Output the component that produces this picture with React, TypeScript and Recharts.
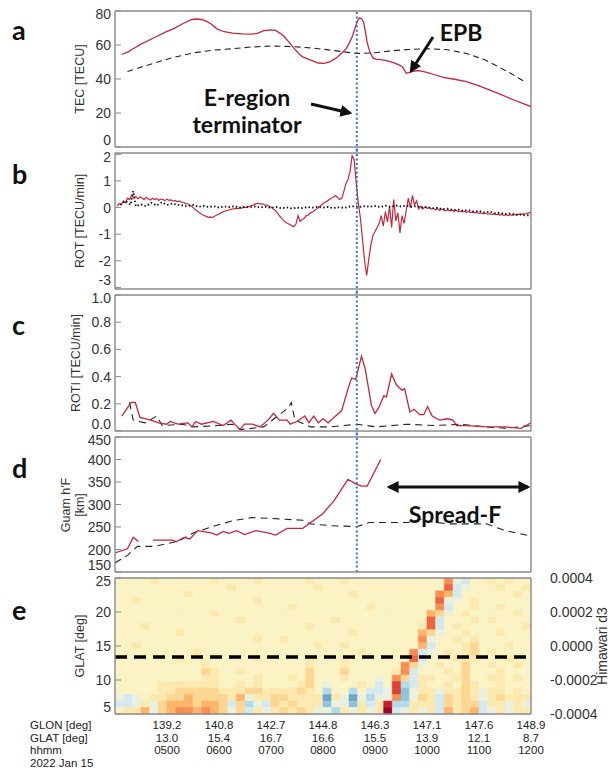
import React from "react";
import {
  ComposedChart,
  Line,
  XAxis,
  YAxis,
  ReferenceLine,
  ReferenceArea,
} from "recharts";

// ---------- time axis (UT hours) ----------
const X_DOMAIN: [number, number] = [4, 12];
const HOUR_TICKS = [4, 5, 6, 7, 8, 9, 10, 11, 12];
const LABEL_HOURS = [5, 6, 7, 8, 9, 10, 11, 12];
const GLON = ["139.2", "140.8", "142.7", "144.8", "146.3", "147.1", "147.6", "148.9"];
const GLAT = ["13.0", "15.4", "16.7", "16.6", "15.5", "13.9", "12.1", "8.7"];
const HHMM = ["0500", "0600", "0700", "0800", "0900", "1000", "1100", "1200"];
const TERMINATOR_H = 8.65;
const GUAM_LAT = 13.4;

// ---------- panel a: TEC ----------
const tecRed = [
  [4.13, 54.4], [4.25, 56], [4.35, 57.8], [4.5, 60.5], [4.76, 64.4], [5.0, 68], [5.14, 69.8],
  [5.3, 72.5], [5.48, 75], [5.57, 75.3], [5.66, 75], [5.75, 74], [5.85, 72.4], [5.96, 69.5],
  [6.1, 67.8], [6.26, 67], [6.45, 66.5], [6.64, 66.4], [6.75, 67], [6.86, 68.4], [7.0, 68.9],
  [7.09, 68.6], [7.17, 67], [7.24, 65.4], [7.35, 61.5], [7.46, 57.4], [7.53, 55], [7.61, 53],
  [7.75, 51.3], [7.91, 49.4], [8.02, 49.2], [8.14, 50.2], [8.26, 52.5], [8.37, 55.4], [8.45, 58],
  [8.51, 61.4], [8.57, 65.5], [8.63, 71.4], [8.67, 74.5], [8.7, 76], [8.74, 75.5], [8.78, 73.4],
  [8.82, 67], [8.85, 61.4], [8.9, 56], [8.96, 52.4], [9.03, 51.6], [9.11, 51.4], [9.2, 51],
  [9.34, 49.8], [9.45, 48.5], [9.52, 47.4], [9.56, 45.5], [9.6, 43.4], [9.65, 43.8], [9.71, 44.4],
  [9.82, 45], [9.92, 44.5], [10.01, 43.8], [10.15, 42.5], [10.31, 41], [10.5, 40], [10.76, 38.4],
  [11.0, 36], [11.21, 33.4], [11.45, 30.5], [11.66, 27.8], [11.85, 25.5], [12.0, 23.8],
];
const tecBlack = [
  [4.24, 44.4], [4.5, 47], [4.76, 49.4], [5.1, 52.5], [5.51, 55.4], [5.9, 57], [6.26, 57.8],
  [6.6, 58.8], [7.01, 59.4], [7.46, 59], [7.8, 58.2], [8.14, 57], [8.4, 56], [8.66, 55],
  [9.0, 55.4], [9.26, 56.4], [9.6, 57.3], [10.01, 57.8], [10.4, 57.2], [10.76, 55], [11.1, 51.5],
  [11.36, 47.4], [11.6, 43.5], [11.88, 38.4],
];

// ---------- panel b: ROT (red sampled every 0.04 h from 04.04 UT) ----------
const ROT_T0 = 4.04;
const ROT_DT = 0.04;
const rotRedValues = [
  0.05, 0.15, 0.1, 0.25, 0.18, 0.35, 0.3, 0.45, 0.38, 0.42, 0.33, 0.4, 0.36, 0.3, 0.38, 0.33,
  0.28, 0.35, 0.3, 0.34, 0.27, 0.32, 0.3, 0.26, 0.31, 0.27, 0.29, 0.24, 0.27, 0.22, 0.25, 0.2,
  0.2, 0.15, 0.14, 0.1, 0.04, -0.04, -0.1, -0.16, -0.21, -0.27, -0.3, -0.34, -0.37, -0.35, -0.38,
  -0.32, -0.28, -0.24, -0.2, -0.16, -0.13, -0.1, -0.09, -0.06, -0.05, -0.03, -0.04, -0.01, -0.02,
  0.01, 0.0, 0.03, 0.06, 0.08, 0.12, 0.15, 0.16, 0.13, 0.14, 0.1, 0.09, 0.05, 0.02, -0.05, -0.1,
  -0.2, -0.3, -0.4, -0.48, -0.55, -0.6, -0.63, -0.68, -0.72, -0.62, -0.3, -0.52, -0.45, -0.4,
  -0.3, -0.28, -0.2, -0.17, -0.1, -0.05, 0.02, 0.08, 0.15, 0.2, 0.24, 0.3, 0.35, 0.4, 0.45, 0.38,
  0.3, 0.35, 0.6, 0.9, 1.05, 1.35, 1.95, 1.8, 0.9, 0.15, -0.4, -1.2, -2.0, -2.55, -1.95, -1.4,
  -1.05, -0.9, -0.75, -0.6, -0.3, -0.7, -0.15, -0.55, 0.05, -0.75, 0.3, -0.5, -0.2, -0.95, -0.3,
  -0.6, -0.1, 0.35, 0.0, 0.45, 0.1, 0.25, -0.05, 0.05, -0.05, 0.02, -0.03, 0.0, -0.06, -0.02,
  -0.08, -0.04, -0.1, -0.06, -0.09, -0.12, -0.08, -0.12, -0.1, -0.14, -0.11, -0.15, -0.13, -0.16,
  -0.14, -0.18, -0.15, -0.19, -0.17, -0.2, -0.18, -0.22, -0.2, -0.24, -0.21, -0.25, -0.23, -0.26,
  -0.24, -0.27, -0.25, -0.28, -0.26, -0.29, -0.27, -0.3, -0.27, -0.29, -0.26, -0.28, -0.25, -0.27,
  -0.24, -0.25, -0.22, -0.2, -0.18,
];
const rotBlack = [
  [4.1, 0.1], [4.2, 0.25], [4.3, 0.1], [4.35, 0.62], [4.4, 0.05], [4.5, 0.12], [4.6, 0.05],
  [4.7, 0.18], [4.8, 0.08], [4.9, 0.2], [5.0, 0.1], [5.1, 0.15], [5.2, 0.1], [5.3, 0.08],
  [5.4, 0.05], [5.5, 0.1], [5.6, 0.03], [5.7, 0.06], [5.8, 0.02], [5.9, 0.05], [6.0, 0.0],
  [6.1, 0.04], [6.2, 0.02], [6.3, 0.05], [6.4, 0.0], [6.5, 0.03], [6.6, 0.01], [6.7, 0.04],
  [6.8, 0.0], [6.9, 0.03], [7.0, -0.01], [7.1, 0.02], [7.2, -0.03], [7.3, 0.01], [7.4, -0.04],
  [7.5, 0.0], [7.6, -0.02], [7.7, 0.02], [7.8, 0.0], [7.9, 0.03], [8.0, 0.0], [8.1, 0.02],
  [8.2, -0.02], [8.3, 0.01], [8.4, -0.01], [8.5, 0.03], [8.6, 0.05], [8.7, 0.02], [8.8, 0.05],
  [8.9, 0.03], [9.0, 0.06], [9.1, 0.02], [9.2, 0.07], [9.3, 0.03], [9.4, 0.08], [9.5, 0.04],
  [9.6, 0.07], [9.7, 0.03], [9.8, 0.05], [9.9, 0.0], [10.0, 0.02], [10.1, -0.03], [10.2, -0.01],
  [10.3, -0.06], [10.4, -0.04], [10.5, -0.09], [10.6, -0.08], [10.7, -0.12], [10.8, -0.1],
  [10.9, -0.15], [11.0, -0.13], [11.1, -0.18], [11.2, -0.16], [11.3, -0.21], [11.4, -0.2],
  [11.5, -0.24], [11.6, -0.22], [11.7, -0.27], [11.8, -0.26], [11.9, -0.3], [12.0, -0.28],
];

// ---------- panel c: ROTI ----------
const rotiRed = [
  [4.13, 0.11], [4.31, 0.21], [4.39, 0.21], [4.48, 0.1], [4.69, 0.08], [4.84, 0.06], [4.99, 0.05],
  [5.06, 0.07], [5.21, 0.05], [5.4, 0.06], [5.48, 0.03], [5.55, 0.07], [5.66, 0.05], [5.89, 0.07],
  [6.08, 0.04], [6.23, 0.08], [6.4, 0.01], [6.49, 0.05], [6.64, 0.05], [6.79, 0.03], [6.94, 0.08],
  [7.05, 0.13], [7.16, 0.08], [7.31, 0.08], [7.37, 0.05], [7.5, 0.07], [7.65, 0.11], [7.73, 0.06],
  [7.82, 0.11], [7.91, 0.06], [8.0, 0.09], [8.1, 0.06], [8.21, 0.1], [8.36, 0.15], [8.48, 0.31],
  [8.55, 0.39], [8.63, 0.38], [8.74, 0.55], [8.81, 0.46], [8.93, 0.19], [9.0, 0.13], [9.07, 0.17],
  [9.17, 0.26], [9.22, 0.25], [9.32, 0.42], [9.41, 0.34], [9.52, 0.3], [9.57, 0.31], [9.67, 0.14],
  [9.75, 0.16], [9.86, 0.12], [9.94, 0.12], [10.01, 0.18], [10.1, 0.11], [10.24, 0.08],
  [10.39, 0.09], [10.5, 0.08], [10.57, 0.04], [10.76, 0.04], [11.14, 0.03], [11.51, 0.03],
  [11.81, 0.02], [12.0, 0.06],
];
const rotiBlack = [
  [4.28, 0.21], [4.35, 0.08], [4.58, 0.06], [4.8, 0.11], [4.91, 0.04], [5.29, 0.05], [5.51, 0.03],
  [5.96, 0.04], [6.26, 0.05], [6.41, 0.01], [6.86, 0.03], [7.33, 0.17], [7.39, 0.21], [7.46, 0.08],
  [7.76, 0.03], [8.14, 0.03], [8.66, 0.05], [9.03, 0.03], [9.62, 0.05], [10.14, 0.04],
  [10.65, 0.05], [11.14, 0.03], [11.51, 0.02], [12.0, 0.04],
];

// ---------- panel d: Guam h'F ----------
const hfRed = [
  [4.0, 192.6], [4.24, 201.5], [4.35, 227], [4.45, 217.6], [4.6, null], [4.73, 221], [5.1, 221],
  [5.18, 217.6], [5.33, 227], [5.44, 223.5], [5.59, 242], [5.85, 237], [5.96, 232], [6.08, 240],
  [6.19, 236], [6.34, 242], [6.49, 233], [6.71, 242], [6.94, 237], [7.09, 232], [7.31, 247],
  [7.61, 247], [7.99, 279], [8.21, 308], [8.48, 356], [8.63, 346], [8.74, 341], [8.85, 341],
  [9.11, 400],
];
const hfBlack = [
  [4.0, 170], [4.24, 187], [4.43, 207], [4.76, 207], [5.21, 218], [5.51, 237], [5.89, 251.5],
  [6.26, 264], [6.64, 271], [7.01, 269], [7.61, 265], [7.76, 257], [8.14, 253], [8.66, 251],
  [8.89, 260], [9.64, 260], [9.9, 268], [10.01, 262.5], [10.39, 257], [11.14, 257], [11.51, 242],
  [12.0, 229.6],
];

// ---------- panel e: Himawari d3, 10-min columns from 04 UT, 21 rows from 25N (top) to 5N ----------
// letter code: I = 0, each step 0.00005 (A = -0.0004, Q = +0.0004)
const HEAT_T0 = 4;
const HEAT_DT = 1 / 6;
const HEAT_LAT: [number, number] = [5, 25];
const heatRows = [
  "IIIIJI IIIIIJ IIIIJI IIIIJI IIJIII IIIIII IIMHGI IJIJII",
  "IIIIII IIIIII IJIIII IIIIIJ IIIIII IIIIII IINGHI IIJIIJ",
  "IIIIII IIJIII IIIIII IIIIII IIIJII IIIIII IMLGII IIIIJI",
  "IIJIII IIIIII IIIIJI IIIIII IIIIII IIIIII INHHIJ IIIIII",
  "IIIIII IIIIII IIIIII IIJIII IIIIIJ IIIIII IMGIIJ IIJIII",
  "IIIIII IIIIIJ IIIIII IIIIII IIIIII IIIIII LKHIJI IIIIJI",
  "IIIIII IIIIII IIJIII IIIIII IJIIII IIIIII NGIIIJ IJIIII",
  "IIIJII IIIIII IIIIII IIIIJI IIIIII IIIIIJ NGIJII IIIIIJ",
  "IIIIII IJIIII IIIIII IIIIII IIIJII IIIIIL KHIIJI IIJIII",
  "IIIIII IIIIII IIIIJI IJIIII IIIIII IIIIIM HIIJIJ IIIIII",
  "IIJIII IIIIII IIIIII IIIIIJ IIJIII IIIIIL GIIIJK IIIJII",
  "IIIIII IIIJII IIIIII IIIIII IIIIJI IIIIMG HIJIJK IJIIII",
  "IIIIII IJIIII IIIIJI IIIIJI IIJIII IIIING IIIJJJ IIIJII",
  "IIIIII IIIIJI IIIIII IIIIJI IIJIII IIIMKH IJIIKI IJIIJI",
  "IIIIII IIIIKJ IIJIII IIIIKI IIKIII IIJMGI IIJIKI IIJIII",
  "IIIIII IIIIJJ IIIIJI IIJIKI IIJIII HIMKGJ JIIJKI IJJIJI",
  "IIIIIJ JJJJJJ IIJIJI IIIJKI HIIIJI GIOFGJ IIJIKJ IIJIII",
  "IIIIIJ JKKKKK JJJKKJ JJJKJI FIIFIG GHOEHJ JHJJKJ HJJIJI",
  "HGHIJJ KKLKKK KJLHJJ KKJJJJ DJHDHF HHMEHK JGKJKJ HJKJJJ",
  "GGHJHK LLLKLL KGKFHG KJKJJJ EHHEJG JPFFJJ JGKJKK GJJHJH",
  "IJJLHK LMMLML KHKGJH JKJKJH HFJHJH JQGHJH JGLJKL GHJHJJ",
];
const CBAR_TICKS = [-0.0004, -0.0002, 0, 0.0002, 0.0004];

// ---------- styling ----------
const FONT = "'Liberation Sans', Arial, sans-serif";
const BOLD = "Lato, 'Open Sans', sans-serif";
const GRAY = "#8a8a8a";
const RED = "#c3283a";
const BLUE = "#3b6fd4";
const W = 609;
const PLOT_L = 115;
const PLOT_R = 531;
const PAD = 12;
const ROW_FONT = 11.5;
const ROW_STEP = 12.5;
const ROW_BASE = 729;

const BOX_A = { top: 11, bottom: 147 };
const BOX_B = { top: 153, bottom: 289 };
const BOX_C = { top: 295, bottom: 431 };
const BOX_D = { top: 437, bottom: 572 };
const BOX_E = { top: 578, bottom: 714 };

const pts = (arr: (number | null)[][]) => arr.map(([h, v]) => ({ h, v }));
const rotRed = rotRedValues.map((v, i) => ({ h: +(ROT_T0 + i * ROT_DT).toFixed(2), v }));

function steps(a: number, b: number, s: number) {
  const out: number[] = [];
  for (let v = a; v <= b + 1e-9; v += s) out.push(+v.toFixed(6));
  return out;
}
const MINOR_X = steps(4, 12, 0.2);

// RdYlBu reversed, softened around zero to match the figure
const CMAP = [
  "#313695", "#4575b4", "#74add1", "#abd9e9", "#e3f0ef", "#fbf3c4",
  "#fce3a2", "#fdae61", "#f46d43", "#d73027", "#a50026",
];
function hex(c: string) {
  return [1, 3, 5].map((i) => parseInt(c.slice(i, i + 2), 16));
}
function colorFor(v: number) {
  const t = Math.max(0, Math.min(1, (v + 0.0004) / 0.0008)) * (CMAP.length - 1);
  const i = Math.min(CMAP.length - 2, Math.floor(t));
  const f = t - i;
  const a = hex(CMAP[i]);
  const b = hex(CMAP[i + 1]);
  const m = a.map((x, k) => Math.round(x + (b[k] - x) * f));
  return `rgb(${m[0]},${m[1]},${m[2]})`;
}

const rowSpan = (HEAT_LAT[1] - HEAT_LAT[0]) / heatRows.length;
const heatCells = heatRows.flatMap((row, r) =>
  row
    .replace(/ /g, "")
    .split("")
    .map((ch, c) => ({
      x1: HEAT_T0 + c * HEAT_DT,
      x2: HEAT_T0 + (c + 1) * HEAT_DT,
      y2: HEAT_LAT[1] - r * rowSpan,
      y1: HEAT_LAT[1] - (r + 1) * rowSpan,
      value: (ch.charCodeAt(0) - 73) * 0.00005,
    }))
);

const tickFont = { fontSize: 14, fill: "#333", fontFamily: FONT };

// y tick labels: the end labels sit slightly inside the frame, as in the figure
function makeYTick(min: number, max: number, fmt?: (v: number) => string) {
  const near = (max - min) * 0.03;
  return (props: any) => {
    const { x, y, payload } = props;
    const v = Number(payload.value);
    const dy = v - min < near ? -7 : max - v < near ? 3 : 0;
    return (
      <text x={x} y={y + dy + 5} textAnchor="end" {...tickFont}>
        {fmt ? fmt(v) : String(v)}
      </text>
    );
  };
}

// every axis is 1px thick (recharts skips 0-size axes); margins absorb that
function frameAxes(
  yDomain: [number, number],
  yMajor: number[],
  yMinor: number[],
  fmt?: (v: number) => string
) {
  const common = { type: "number" as const, interval: 0 as const, allowDataOverflow: true };
  const line = { stroke: GRAY, strokeWidth: 1 };
  const axis = { stroke: GRAY, strokeWidth: 1.4 };
  return [
    <XAxis key="xb" xAxisId={0} dataKey="h" domain={X_DOMAIN} ticks={HOUR_TICKS} tick={false}
      tickSize={-5} height={1} axisLine={axis} tickLine={line} {...common} />,
    <XAxis key="xbm" xAxisId="bm" domain={X_DOMAIN} ticks={MINOR_X} tick={false}
      tickSize={-2.5} height={1} axisLine={false} tickLine={line} {...common} />,
    <XAxis key="xt" xAxisId="t" orientation="top" domain={X_DOMAIN} ticks={HOUR_TICKS} tick={false}
      tickSize={-5} height={1} axisLine={axis} tickLine={line} {...common} />,
    <XAxis key="xtm" xAxisId="tm" orientation="top" domain={X_DOMAIN} ticks={MINOR_X} tick={false}
      tickSize={-2.5} height={1} axisLine={false} tickLine={line} {...common} />,
    <YAxis key="yl" yAxisId={0} domain={yDomain} ticks={yMajor} tickSize={-6} tickMargin={10}
      width={1} tick={makeYTick(yDomain[0], yDomain[1], fmt)} axisLine={axis} tickLine={line} {...common} />,
    <YAxis key="ylm" yAxisId="lm" domain={yDomain} ticks={yMinor} tick={false} tickSize={-3}
      width={1} axisLine={false} tickLine={line} {...common} />,
    <YAxis key="yr" yAxisId="r" orientation="right" domain={yDomain} ticks={yMajor} tick={false}
      tickSize={-6} width={1} axisLine={axis} tickLine={line} {...common} />,
    <YAxis key="yrm" yAxisId="rm" orientation="right" domain={yDomain} ticks={yMinor} tick={false}
      tickSize={-3} width={1} axisLine={false} tickLine={line} {...common} />,
  ];
}

// blue dotted terminator line, carried through the gaps between stacked panels
function terminator(yDomain: [number, number], h: number, top: number, bottom: number) {
  const u = (yDomain[1] - yDomain[0]) / h;
  return (
    <ReferenceLine key="term" ifOverflow="visible" stroke={BLUE} strokeWidth={2} strokeDasharray="2 2.4"
      segment={[{ x: TERMINATOR_H, y: yDomain[0] - bottom * u }, { x: TERMINATOR_H, y: yDomain[1] + top * u }]} />
  );
}

type PanelProps = {
  box: { top: number; bottom: number };
  yDomain: [number, number];
  yMajor: number[];
  yMinor: number[];
  fmt?: (v: number) => string;
  term?: [number, number];
  children?: React.ReactNode;
  after?: React.ReactNode;
};

function Panel({ box, yDomain, yMajor, yMinor, fmt, term, children, after }: PanelProps) {
  const h = box.bottom - box.top;
  return (
    <div style={{ position: "absolute", left: 0, top: box.top - 2 - PAD }}>
      <ComposedChart
        width={W}
        height={h + 4 + 2 * PAD}
        margin={{ top: PAD, bottom: PAD, left: PLOT_L - 2, right: W - PLOT_R - 2 }}
      >
        {children}
        {term ? terminator(yDomain, h, term[0], term[1]) : null}
        {frameAxes(yDomain, yMajor, yMinor, fmt)}
        {after}
      </ComposedChart>
    </div>
  );
}

const lineBase = { dataKey: "v", dot: false, isAnimationActive: false, type: "linear" as const };

function ColorBar() {
  const h = BOX_E.bottom - BOX_E.top;
  const n = 40;
  const slices = Array.from({ length: n }, (_, i) => -0.0004 + (i * 0.0008) / n);
  return (
    <div style={{ position: "absolute", left: 530, top: BOX_E.top - 2 - PAD }}>
      <ComposedChart width={79} height={h + 4 + 2 * PAD} margin={{ top: 2 + PAD, bottom: 2 + PAD, left: 9, right: 60 }}>
        <XAxis xAxisId={0} type="number" domain={[0, 1]} hide allowDataOverflow />
        <YAxis yAxisId={0} orientation="right" type="number" domain={[-0.0004, 0.0004]} allowDataOverflow
          ticks={CBAR_TICKS} interval={0} width={1} tickSize={0} tickMargin={2}
          axisLine={false} tickLine={false} tick={tickFont} tickFormatter={(v: number) => Number(v).toFixed(4)} />
        {slices.map((v) => (
          <ReferenceArea key={v} x1={0} x2={1} y1={v} y2={v + 0.0008 / n} ifOverflow="visible"
            fill={colorFor(v + 0.0004 / n)} fillOpacity={1} stroke={colorFor(v + 0.0004 / n)} strokeWidth={0.5} />
        ))}
        <ReferenceArea x1={0} x2={1} y1={-0.0004} y2={0.0004} ifOverflow="visible"
          fill="none" fillOpacity={0} stroke="#666" strokeWidth={0.8} />
      </ComposedChart>
    </div>
  );
}

// x position of an hour under the shared time axis of all panels
const hourX = (hr: number) => PLOT_L + ((hr - X_DOMAIN[0]) / (X_DOMAIN[1] - X_DOMAIN[0])) * (PLOT_R - PLOT_L);

function Overlay() {
  const letters: [string, number][] = [["a", 40], ["b", 184], ["c", 335], ["d", 478], ["e", 620]];
  const title = { fontSize: 12.5, fill: "#333", fontFamily: FONT, textAnchor: "middle" as const };
  const ann = { fontFamily: BOLD, fontWeight: 700, fill: "#111", textAnchor: "middle" as const };
  const row = { fontSize: ROW_FONT, fill: "#222", fontFamily: FONT };
  const rowNames = ["GLON [deg]", "GLAT [deg]", "hhmm", "2022 Jan 15"];
  const rowValues = [GLON, GLAT, HHMM];
  return (
    <svg width={W} height={769} style={{ position: "absolute", left: 0, top: 0, pointerEvents: "none" }}>
      <defs>
        <marker id="ah" viewBox="0 0 10 10" refX="8" refY="5" markerWidth="4" markerHeight="4" orient="auto-start-reverse">
          <path d="M0,0 L10,5 L0,10 z" fill="#111" />
        </marker>
      </defs>
      {letters.map(([l, y]) => (
        <text key={l} x={12} y={y} fontSize={27} {...ann} textAnchor="start">{l}</text>
      ))}
      <text transform="translate(84,79) rotate(-90)" {...title}>TEC [TECU]</text>
      <text transform="translate(84,221) rotate(-90)" {...title}>ROT [TECU/min]</text>
      <text transform="translate(80,363) rotate(-90)" {...title}>ROTI [TECU/min]</text>
      <text transform="translate(70,505) rotate(-90)" {...title}>Guam h'F</text>
      <text transform="translate(84,505) rotate(-90)" {...title}>[km]</text>
      <text transform="translate(84,646) rotate(-90)" {...title}>GLAT [deg]</text>
      <text transform="translate(607,646) rotate(-90)" {...title} fontSize={14}>Himawari d3</text>

      <text x={247} y={106} fontSize={23} {...ann}>E-region</text>
      <text x={247} y={133} fontSize={23} {...ann}>terminator</text>
      <line x1={311} y1={104} x2={350} y2={113} stroke="#111" strokeWidth={3} markerEnd="url(#ah)" />
      <text x={461} y={41} fontSize={23} {...ann}>EPB</text>
      <line x1={433} y1={37} x2={411} y2={71} stroke="#111" strokeWidth={3} markerEnd="url(#ah)" />
      <text x={455} y={523} fontSize={23} {...ann}>Spread-F</text>
      <line x1={389} y1={487} x2={528} y2={487} stroke="#111" strokeWidth={3}
        markerStart="url(#ah)" markerEnd="url(#ah)" />

      {rowNames.map((t, i) => (
        <text key={t} x={30} y={ROW_BASE + i * ROW_STEP} {...row}>{t}</text>
      ))}
      {rowValues.map((vals, r) =>
        vals.map((v, i) => (
          <text key={`${r}-${i}`} x={hourX(LABEL_HOURS[i])} y={ROW_BASE + r * ROW_STEP}
            textAnchor="middle" {...row}>{v}</text>
        ))
      )}
    </svg>
  );
}

export default function App() {
  return (
    <div style={{ position: "absolute", left: 0, top: 0, width: W, height: 769, background: "#fff", overflow: "hidden" }}>
      <Panel box={BOX_A} yDomain={[0, 80]} yMajor={steps(0, 80, 20)} yMinor={steps(0, 80, 5)} term={[0, 3.5]}>
        <Line {...lineBase} data={pts(tecBlack)} stroke="#222" strokeWidth={1.1} strokeDasharray="6 4" />
        <Line {...lineBase} data={pts(tecRed)} stroke={RED} strokeWidth={1.3} />
      </Panel>

      <Panel box={BOX_B} yDomain={[-3.06, 2.05]} yMajor={steps(-3, 2, 1)} yMinor={steps(-3, 2, 0.1)} term={[3.5, 3.5]}>
        <Line {...lineBase} data={rotRed} stroke={RED} strokeWidth={1.2} />
        <Line {...lineBase} data={pts(rotBlack)} stroke="#111" strokeWidth={1.8} strokeDasharray="1.5 2.2" />
      </Panel>

      <Panel box={BOX_C} yDomain={[0, 1.0]} yMajor={steps(0, 1, 0.2)} yMinor={steps(0, 1, 0.05)}
        fmt={(v) => v.toFixed(1)} term={[3.5, 3.5]}>
        <Line {...lineBase} data={pts(rotiBlack)} stroke="#222" strokeWidth={1.1} strokeDasharray="7 5" />
        <Line {...lineBase} data={pts(rotiRed)} stroke={RED} strokeWidth={1.3} />
      </Panel>

      <Panel box={BOX_D} yDomain={[150, 450]} yMajor={steps(150, 450, 50)} yMinor={steps(150, 450, 10)}
        term={[3.5, 0]}>
        <Line {...lineBase} data={pts(hfBlack)} stroke="#222" strokeWidth={1.1} strokeDasharray="7 5" />
        <Line {...lineBase} data={pts(hfRed)} stroke={RED} strokeWidth={1.3} connectNulls={false} />
      </Panel>

      <Panel box={BOX_E} yDomain={HEAT_LAT} yMajor={steps(5, 25, 5)} yMinor={steps(5, 25, 1)}
        children={heatCells.map((c, i) => (
          <ReferenceArea key={i} x1={c.x1} x2={c.x2} y1={c.y1} y2={c.y2}
            ifOverflow="visible" fill={colorFor(c.value)} fillOpacity={1}
            stroke={colorFor(c.value)} strokeWidth={0.6} />
        ))}
        after={<ReferenceLine y={GUAM_LAT} stroke="#000" strokeWidth={3.5} strokeDasharray="12 7" />}
      />

      <ColorBar />
      <Overlay />
    </div>
  );
}
